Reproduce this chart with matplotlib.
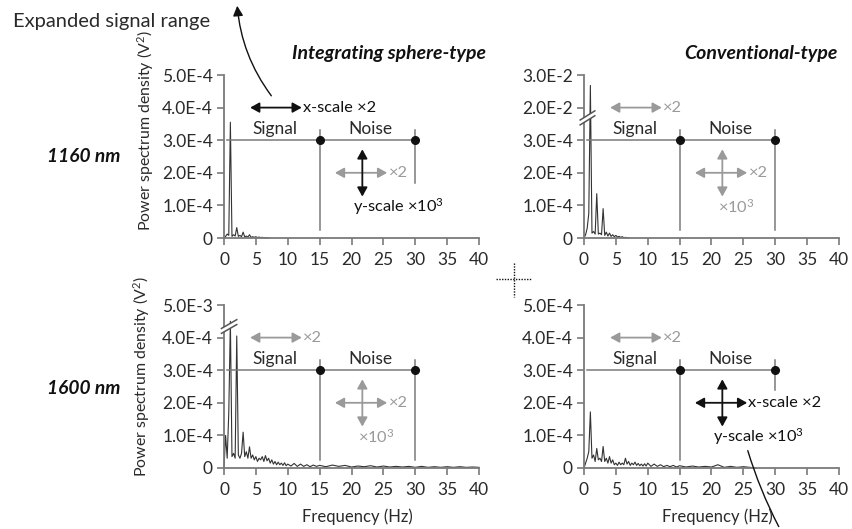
import matplotlib
matplotlib.use('Agg')
import matplotlib.pyplot as plt
from matplotlib.patches import Polygon

plt.rcParams['font.family'] = ['Lato', 'DejaVu Sans']
plt.rcParams['mathtext.fontset'] = 'custom'
plt.rcParams['mathtext.rm'] = 'Lato'
plt.rcParams['mathtext.default'] = 'rm'

W, H = 853, 529

# frequency bins (Hz)
freq_fine = [0, 0.25, 0.5, 0.75, 1.0, 1.25, 1.5, 1.75, 2.0, 2.25, 2.5, 2.75, 3.0, 3.25, 3.5, 3.75,
             4.0, 4.25, 4.5, 4.75, 5.0, 5.25, 5.5, 5.75, 6.0, 6.25, 6.5, 6.75, 7.0, 7.25, 7.5, 7.75,
             8.0, 8.25, 8.5, 8.75, 9.0, 9.25, 9.5, 9.75, 10.0]
freq_mid = [10.5, 11, 11.5, 12, 12.5, 13, 13.5, 14, 14.5, 15]
freq_tail = [16, 17, 18, 19, 20, 21, 22, 23, 24, 25, 26, 27, 28, 29, 30, 31, 32, 33, 34, 35,
             36, 37, 38, 39, 40]

# PSD on the drawn scale (1 unit = 1.0E-4 V^2 below the axis break)
psd_1160_sphere = [0, 0.05, 0.12, 0.08, 3.55, 0.05, 0.1, 0.06, 0.32, 0.05, 0.08, 0.04, 0.18, 0.03,
                   0.06, 0.03, 0.1, 0.02, 0.04, 0.02, 0.04, 0.01, 0.03, 0.01, 0.02, 0.01, 0.01, 0, 0]
psd_1160_conv = [0, 0.1, 0.3, 0.75, 4.68, 0.15, 0.2, 0.12, 1.36, 0.12, 0.15, 0.1, 0.9, 0.08,
                 0.18, 0.06, 0.15, 0.05, 0.1, 0.04, 0.08, 0.03, 0.05, 0.02, 0.04, 0.01, 0.02, 0.01, 0]
psd_1600_sphere = [0, 1.0, 0.3, 1.7, 4.5, 0.35, 0.45, 0.3, 4.05, 0.4, 0.3, 0.45, 1.1, 0.35, 0.5, 0.3,
                   0.65, 0.3, 0.4, 0.25, 0.35, 0.2, 0.3, 0.25, 0.35, 0.2, 0.38, 0.22, 0.3, 0.15, 0.25, 0.12,
                   0.2, 0.1, 0.18, 0.1, 0.15, 0.08, 0.16, 0.07, 0.12,
                   0.06, 0.14, 0.05, 0.12, 0.05, 0.1, 0.04, 0.09, 0.05, 0.08,
                   0.04, 0.09, 0.05, 0.08, 0.03, 0.06, 0.04, 0.07, 0.03, 0.06, 0.03, 0.05, 0.03, 0.05,
                   0.02, 0.05, 0.02, 0.04, 0.02, 0.04, 0.02, 0.04, 0.02, 0.03, 0.02]
psd_1600_conv = [0, 0.15, 0.3, 0.5, 1.72, 0.3, 0.4, 0.2, 0.6, 0.25, 0.3, 0.2, 0.66, 0.2, 0.3, 0.15,
                 0.35, 0.15, 0.25, 0.1, 0.15, 0.08, 0.18, 0.1, 0.15, 0.1, 0.3, 0.12, 0.2, 0.08, 0.15, 0.1,
                 0.18, 0.08, 0.14, 0.07, 0.12, 0.06, 0.13, 0.06, 0.15,
                 0.05, 0.12, 0.05, 0.1, 0.04, 0.08, 0.04, 0.08, 0.03, 0.07,
                 0.03, 0.06, 0.03, 0.05, 0.03, 0.1, 0.02, 0.05, 0.02, 0.04, 0.02, 0]

x_ticks = [0, 5, 10, 15, 20, 25, 30, 35, 40]
y_ticks = [0, 1, 2, 3, 4, 5]
ylab_plain = ['0', '1.0E-4', '2.0E-4', '3.0E-4', '4.0E-4', '5.0E-4']
ylab_1160_conv = ['0', '1.0E-4', '2.0E-4', '3.0E-4', '2.0E-2', '3.0E-2']
ylab_1600_sphere = ['0', '1.0E-4', '2.0E-4', '3.0E-4', '4.0E-4', '5.0E-3']

threshold = 3.0
signal_end = 15
noise_end = 30

AX_C = '#7a7a7a'
TXT_C = '#2a2a2a'
GREY = '#9a9a9a'
BLACK = '#111111'


def px(x, y):
    return x / W, 1 - y / H


def harrow(ax, x0, x1, y, color):
    ax.annotate('', xy=(x1, y), xytext=(x0, y),
                arrowprops=dict(arrowstyle='<|-|>,head_length=0.45,head_width=0.25', color=color,
                                lw=1.3, shrinkA=0, shrinkB=0, mutation_scale=12))


def varrow(ax, x, y0, y1, color):
    ax.annotate('', xy=(x, y1), xytext=(x, y0),
                arrowprops=dict(arrowstyle='<|-|>,head_length=0.45,head_width=0.25', color=color,
                                lw=1.3, shrinkA=0, shrinkB=0, mutation_scale=12))


def axis_break(ax, x0, x1, ylo, yhi, gap):
    poly = Polygon([(x0, ylo), (x1, yhi), (x1, yhi + gap), (x0, ylo + gap)], closed=True,
                   facecolor='white', edgecolor='none', zorder=5, clip_on=False)
    ax.add_patch(poly)
    ax.plot([x0, x1], [ylo, yhi], color='#555555', lw=1.1, zorder=6, clip_on=False)
    ax.plot([x0, x1], [ylo + gap, yhi + gap], color='#555555', lw=1.1, zorder=6, clip_on=False)


def draw_panel(rect, f, p, ylabels, top_black, cross_h_black, line30_low):
    ax = fig.add_axes(rect)
    ax.set_xlim(0, 40)
    ax.set_ylim(0, 5)
    for s in ['top', 'right']:
        ax.spines[s].set_visible(False)
    for s in ['left', 'bottom']:
        ax.spines[s].set_color(AX_C)
        ax.spines[s].set_linewidth(1.3)
    ax.set_xticks(x_ticks)
    ax.set_yticks(y_ticks)
    ax.set_yticklabels(ylabels)
    ax.tick_params(axis='y', length=5, width=1.2, color=AX_C, pad=3, labelsize=12.5, labelcolor=TXT_C)
    ax.tick_params(axis='x', length=5, width=1.2, color=AX_C, pad=5, labelsize=12.5, labelcolor=TXT_C)
    ax.patch.set_visible(False)

    ax.plot(f, p, color='#333333', lw=0.8, clip_on=False)

    # threshold line and signal/noise boundaries
    ax.plot([0.5, noise_end], [threshold, threshold], color=AX_C, lw=1.1)
    ax.plot([signal_end, signal_end], [0.25, 3.3], color=AX_C, lw=1.1)
    ax.plot([noise_end, noise_end], [line30_low, 3.3], color=AX_C, lw=1.1)
    ax.plot([signal_end, noise_end], [threshold, threshold], 'o', color=BLACK, ms=5.5, zorder=4)
    ax.text(8.0, 3.1, 'Signal', ha='center', va='bottom', fontsize=12.5, color=TXT_C)
    ax.text(22.9, 3.1, 'Noise', ha='center', va='bottom', fontsize=12.5, color=TXT_C)

    # x-scale arrow above signal range
    c = BLACK if top_black else GREY
    harrow(ax, 4.1, 12.2, 4.0, c)
    ax.text(12.4, 4.0, 'x-scale ×2' if top_black else '×2', ha='left', va='center',
            fontsize=11.8, color=c)

    # cross arrows
    ch = BLACK if cross_h_black else GREY
    cv = BLACK if (top_black or cross_h_black) else GREY
    harrow(ax, 17.4, 25.6, 2.0, ch)
    varrow(ax, 21.7, 1.27, 2.72, cv)
    ax.text(25.8, 2.0, 'x-scale ×2' if cross_h_black else '×2', ha='left', va='center',
            fontsize=11.8, color=ch)
    if cv == BLACK:
        ax.text(20.3, 0.95, 'y-scale ×10$^{3}$', ha='left', va='center', fontsize=11.8, color=cv)
    else:
        ax.text(21.0, 0.95, '×10$^{3}$', ha='left', va='center', fontsize=11.8, color=cv)
    return ax


fig = plt.figure(figsize=(W / 100, H / 100), dpi=100)

left_x, right_x, ax_w = 224 / W, 584 / W, 255 / W
top_y, bot_y, ax_h = 1 - 238 / H, 1 - 468 / H, 163 / H

ax_tl = draw_panel([left_x, top_y, ax_w, ax_h], freq_fine[:29], psd_1160_sphere, ylab_plain,
                   True, False, 1.7)
ax_tr = draw_panel([right_x, top_y, ax_w, ax_h], freq_fine[:29], psd_1160_conv, ylab_1160_conv,
                   False, False, 0.25)
ax_bl = draw_panel([left_x, bot_y, ax_w, ax_h], freq_fine + freq_mid + freq_tail, psd_1600_sphere,
                   ylab_1600_sphere, False, False, 0.25)
ax_br = draw_panel([right_x, bot_y, ax_w, ax_h], freq_fine + freq_mid + freq_tail[:12], psd_1600_conv,
                   ylab_plain, False, True, 2.4)

axis_break(ax_tr, -0.6, 1.7, 3.47, 3.75, 0.15)
axis_break(ax_bl, -0.4, 2.0, 4.13, 4.4, 0.15)

# titles and labels
fig.text(*px(486, 54), 'Integrating sphere-type', ha='right', va='center', fontsize=14,
         fontweight='bold', fontstyle='italic', color=BLACK)
fig.text(*px(838, 54), 'Conventional-type', ha='right', va='center', fontsize=14,
         fontweight='bold', fontstyle='italic', color=BLACK)
fig.text(*px(84, 157), '1160 nm', ha='center', va='center', fontsize=13.8,
         fontweight='bold', fontstyle='italic', color=BLACK)
fig.text(*px(84, 388), '1600 nm', ha='center', va='center', fontsize=13.8,
         fontweight='bold', fontstyle='italic', color=BLACK)
fig.text(*px(146, 131), 'Power spectrum density (V$^{2}$)', rotation=90, ha='center', va='center',
         fontsize=11.4, color=TXT_C)
fig.text(*px(142, 377), 'Power spectrum density (V$^{2}$)', rotation=90, ha='center', va='center',
         fontsize=11.4, color=TXT_C)
fig.text(*px(357, 517), 'Frequency (Hz)', ha='center', va='center', fontsize=12, color=TXT_C)
fig.text(*px(717, 517), 'Frequency (Hz)', ha='center', va='center', fontsize=12, color=TXT_C)
fig.text(*px(13, 21), 'Expanded signal range', ha='left', va='center', fontsize=14.5, color=TXT_C)

# curved pointer to the expanded range
fig.add_artist(matplotlib.patches.FancyArrowPatch(
    px(273, 98), px(237, 3), transform=fig.transFigure, connectionstyle='arc3,rad=-0.15',
    arrowstyle='-|>,head_length=0.5,head_width=0.25', mutation_scale=12, color=BLACK, lw=1.0))
fig.add_artist(matplotlib.patches.FancyArrowPatch(
    px(747, 448), px(780, 529), transform=fig.transFigure, connectionstyle='arc3,rad=0.05',
    arrowstyle='-', color=BLACK, lw=1.0))

# dotted cross in the middle
fig.add_artist(matplotlib.lines.Line2D([496 / W, 532 / W], [1 - 279 / H] * 2, transform=fig.transFigure,
                                       color=BLACK, lw=1.0, ls=(0, (1, 1))))
fig.add_artist(matplotlib.lines.Line2D([514 / W] * 2, [1 - 263 / H, 1 - 297 / H], transform=fig.transFigure,
                                       color=BLACK, lw=1.0, ls=(0, (1, 1))))

fig.savefig('out.png', dpi=100)
